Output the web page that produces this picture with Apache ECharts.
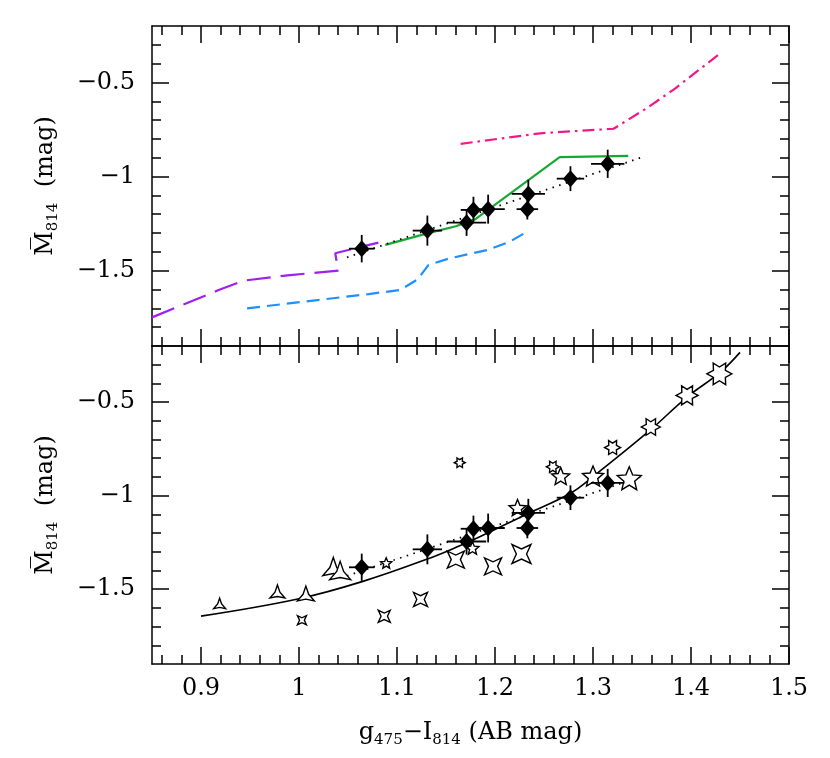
<!DOCTYPE html>
<html>
<head>
<meta charset="utf-8">
<script src="https://cdn.jsdelivr.net/npm/echarts@6/dist/echarts.min.js"></script>
<style>html,body{margin:0;padding:0;background:#fff}#c{width:830px;height:758px}</style>
</head>
<body>
<div id="c"></div>
<script>
// ---------------- data ----------------
const X_MIN = 0.85, X_MAX = 1.5;
const Y_MIN = -1.9, Y_MAX = -0.2;
const xMajor = [0.9, 1.0, 1.1, 1.2, 1.3, 1.4, 1.5];
const yMajor = [-1.5, -1.0, -0.5];

// observed points (black diamonds) with errors
const obsX    = [1.064, 1.131, 1.171, 1.178, 1.193, 1.234, 1.233, 1.277, 1.315];
const obsY    = [-1.383, -1.287, -1.245, -1.177, -1.173, -1.092, -1.173, -1.011, -0.932];
const obsXErr = [0.013, 0.015, 0.020, 0.013, 0.017, 0.017, 0.011, 0.014, 0.017];
const obsYErr = [0.073, 0.080, 0.070, 0.070, 0.077, 0.075, 0.055, 0.066, 0.075];

// dotted linear fit
const fitX = [1.049, 1.350];
const fitY = [-1.429, -0.897];

// top panel model tracks
const purpleX = [0.850, 0.918, 0.943, 0.991, 1.040, 1.037, 1.081];
const purpleY = [-1.748, -1.603, -1.553, -1.523, -1.500, -1.407, -1.351];
const blueX = [0.947, 1.071, 1.103, 1.121, 1.132, 1.154, 1.192, 1.215, 1.231];
const blueY = [-1.700, -1.624, -1.603, -1.546, -1.470, -1.434, -1.390, -1.346, -1.298];
const greenX = [1.088, 1.131, 1.160, 1.180, 1.266, 1.336];
const greenY = [-1.363, -1.302, -1.264, -1.226, -0.897, -0.890];
const pinkX = [1.165, 1.246, 1.321, 1.355, 1.382, 1.428];
const pinkY = [-0.826, -0.770, -0.746, -0.636, -0.539, -0.353];

// bottom panel curve
const curveX = [0.900, 1.000, 1.066, 1.134, 1.164, 1.185, 1.236, 1.277, 1.300, 1.358, 1.396, 1.430, 1.450];
const curveY = [-1.644, -1.551, -1.457, -1.333, -1.268, -1.218, -1.090, -0.987, -0.898, -0.651, -0.473, -0.340, -0.234];

// bottom panel open stars (x, y, relative marker size)
const tri3X = [0.919, 0.978, 1.007, 1.035, 1.042];
const tri3Y = [-1.576, -1.512, -1.523, -1.379, -1.400];
const tri3S = [12, 15, 17, 21, 21];
const quad4X = [1.003, 1.087, 1.124, 1.160, 1.198, 1.227];
const quad4Y = [-1.666, -1.645, -1.555, -1.342, -1.378, -1.312];
const quad4S = [9, 12, 14, 17, 17, 19];
const pent5X = [1.089, 1.177, 1.223, 1.267, 1.300, 1.337];
const pent5Y = [-1.360, -1.280, -1.064, -0.895, -0.895, -0.907];
const pent5S = [11, 13, 17, 18, 21, 24];
const hex6X = [1.164, 1.259, 1.320, 1.359, 1.396, 1.429];
const hex6Y = [-0.824, -0.846, -0.743, -0.633, -0.464, -0.349];
const hex6S = [11, 13, 16, 19, 22, 25];

// ---------------- helpers ----------------
const zip = (a, b) => a.map((v, i) => [v, b[i]]);
const zip3 = (a, b, c) => a.map((v, i) => [v, b[i], c[i]]);
function minorTicks(lo, hi, step, majors) {
  const out = [];
  const n = Math.round((hi - lo) / step);
  for (let k = 1; k < n; k++) {
    const v = +(lo + k * step).toFixed(4);
    if (!majors.some(m => Math.abs(m - v) < 1e-6)) out.push(v);
  }
  return out;
}
const xMinor = minorTicks(0.84, X_MAX, 0.02, xMajor).filter(v => v > X_MIN);
const yMinor = minorTicks(Y_MIN, Y_MAX, 0.1, yMajor);

function starPath(n, ratio, rotDeg) {
  let d = '';
  for (let k = 0; k < 2 * n; k++) {
    const r = k % 2 === 0 ? 100 : 100 * ratio;
    const a = (rotDeg + k * 180 / n) * Math.PI / 180;
    d += (k === 0 ? 'M' : 'L') + (r * Math.cos(a)).toFixed(2) + ' ' + (-r * Math.sin(a)).toFixed(2) + ' ';
  }
  return 'path://' + d + 'Z';
}

const FONT = 'DejaVu Serif';
const fmt = v => { const s = String(+(+v).toFixed(2)); return v < 0 ? '\u2212' + s.slice(1) : s; };
const LS = { color: '#000', width: 1.5 };

function xAxes(gi, labels) {
  const base = { type: 'value', gridIndex: gi, min: X_MIN, max: X_MAX, splitLine: { show: false } };
  const maj = (pos, lab, line) => Object.assign({}, base, {
    position: pos,
    axisLine: { show: line, onZero: false, lineStyle: LS },
    axisTick: { show: true, inside: true, length: 17, customValues: xMajor, lineStyle: LS },
    axisLabel: lab ? { show: true, customValues: xMajor, formatter: fmt, margin: 13,
      color: '#000', fontFamily: FONT, fontSize: 24 } : { show: false }
  });
  const min = pos => Object.assign({}, base, {
    position: pos,
    axisLine: { show: false, onZero: false },
    axisTick: { show: true, inside: true, length: 9, customValues: xMinor, lineStyle: LS },
    axisLabel: { show: false }
  });
  const a = maj('bottom', labels, true);
  if (labels) {
    a.name = '{g|g}{s|475}{g|\u2212I}{s|814}{g| (AB mag)}';
    a.nameLocation = 'middle';
    a.nameGap = 54;
    a.nameTextStyle = {
      color: '#000', fontFamily: FONT, fontSize: 24,
      rich: {
        g: { fontFamily: FONT, fontSize: 24, color: '#000', lineHeight: 30 },
        s: { fontFamily: FONT, fontSize: 15, color: '#000', lineHeight: 16, verticalAlign: 'bottom' }
      }
    };
  }
  return [a, min('bottom'), maj('top', false, true), min('top')];
}

function yAxes(gi) {
  const base = { type: 'value', gridIndex: gi, min: Y_MIN, max: Y_MAX, splitLine: { show: false } };
  const maj = (pos, lab) => Object.assign({}, base, {
    position: pos,
    axisLine: { show: true, onZero: false, lineStyle: LS },
    axisTick: { show: true, inside: true, length: 17, customValues: yMajor, lineStyle: LS },
    axisLabel: lab ? { show: true, customValues: yMajor, formatter: fmt, margin: 17,
      color: '#000', fontFamily: FONT, fontSize: 24 } : { show: false }
  });
  const min = pos => Object.assign({}, base, {
    position: pos,
    axisLine: { show: false, onZero: false },
    axisTick: { show: true, inside: true, length: 9, customValues: yMinor, lineStyle: LS },
    axisLabel: { show: false }
  });
  const a = maj('left', true);
  a.name = '{m|M\u0305}{s|814}{t|  (mag)}';
  a.nameLocation = 'middle';
  a.nameRotate = 90;
  a.nameGap = 91;
  a.nameTextStyle = {
    color: '#000', fontFamily: FONT, fontSize: 24,
    rich: {
      m: { fontFamily: FONT, fontSize: 24, color: '#000', lineHeight: 30 },
      t: { fontFamily: FONT, fontSize: 24, color: '#000', lineHeight: 30 },
      s: { fontFamily: FONT, fontSize: 15, color: '#000', lineHeight: 16, verticalAlign: 'bottom' }
    }
  };
  return [a, min('left'), maj('right', false), min('right')];
}

function lineSeries(ai, xs, ys, color, type, width, smooth) {
  return {
    type: 'line', xAxisIndex: ai, yAxisIndex: ai, data: zip(xs, ys),
    showSymbol: false, symbol: 'none', smooth: smooth || false, z: 2, silent: true,
    lineStyle: { color: color, width: width, type: type, cap: 'butt', opacity: 1 }
  };
}
function errSeries(ai) {
  return {
    type: 'custom', xAxisIndex: ai, yAxisIndex: ai, z: 4, silent: true,
    data: obsX.map((x, i) => [x, obsY[i], obsXErr[i], obsYErr[i]]),
    encode: { x: 0, y: 1 },
    renderItem: function (params, api) {
      const x = api.value(0), y = api.value(1), ex = api.value(2), ey = api.value(3);
      const l = api.coord([x - ex, y]), r = api.coord([x + ex, y]);
      const t = api.coord([x, y + ey]), b = api.coord([x, y - ey]);
      const st = { stroke: '#000', lineWidth: 1.8 };
      return { type: 'group', children: [
        { type: 'line', shape: { x1: l[0], y1: l[1], x2: r[0], y2: r[1] }, style: st },
        { type: 'line', shape: { x1: t[0], y1: t[1], x2: b[0], y2: b[1] }, style: st }
      ] };
    }
  };
}
function diamondSeries(ai) {
  return {
    type: 'scatter', xAxisIndex: ai, yAxisIndex: ai, z: 5, silent: true,
    data: zip(obsX, obsY), symbol: 'diamond', symbolSize: [15, 17],
    itemStyle: { color: '#000', borderWidth: 0, opacity: 1 }
  };
}
function starSeries(xs, ys, ss, path) {
  return {
    type: 'scatter', xAxisIndex: 4, yAxisIndex: 4, z: 3, silent: true,
    data: zip3(xs, ys, ss), symbol: path, symbolKeepAspect: true,
    symbolSize: v => v[2],
    itemStyle: { color: '#fff', borderColor: '#000', borderWidth: 1.4, opacity: 1 }
  };
}

const DOT = [1.5, 5.5];
const option = {
  animation: false,
  backgroundColor: '#fff',
  grid: [
    { left: 152, right: 41, top: 26, height: 320 },
    { left: 152, right: 41, top: 346, height: 318 }
  ],
  xAxis: [].concat(xAxes(0, false), xAxes(1, true)),
  yAxis: [].concat(yAxes(0), yAxes(1)),
  series: [
    lineSeries(0, purpleX, purpleY, '#a020f0', [24, 10], 2.2),
    lineSeries(0, blueX, blueY, '#1e90ff', [13, 7], 2.2),
    lineSeries(0, greenX, greenY, '#17a832', 'solid', 2.2),
    lineSeries(0, pinkX, pinkY, '#f0188a', [12, 5, 2.5, 5], 2.2),
    lineSeries(0, fitX, fitY, '#000', DOT, 1.8),
    errSeries(0),
    diamondSeries(0),
    lineSeries(4, curveX, curveY, '#000', 'solid', 1.6, 0.4),
    lineSeries(4, fitX, fitY, '#000', DOT, 1.8),
    starSeries(tri3X, tri3Y, tri3S, starPath(3, 0.33, 90)),
    starSeries(quad4X, quad4Y, quad4S, starPath(4, 0.38, 45)),
    starSeries(pent5X, pent5Y, pent5S, starPath(5, 0.45, 90)),
    starSeries(hex6X, hex6Y, hex6S, starPath(6, 0.55, 0)),
    errSeries(4),
    diamondSeries(4)
  ]
};
const chart = echarts.init(document.getElementById('c'), null, { renderer: 'canvas' });
chart.setOption(option);
</script>
</body>
</html>
